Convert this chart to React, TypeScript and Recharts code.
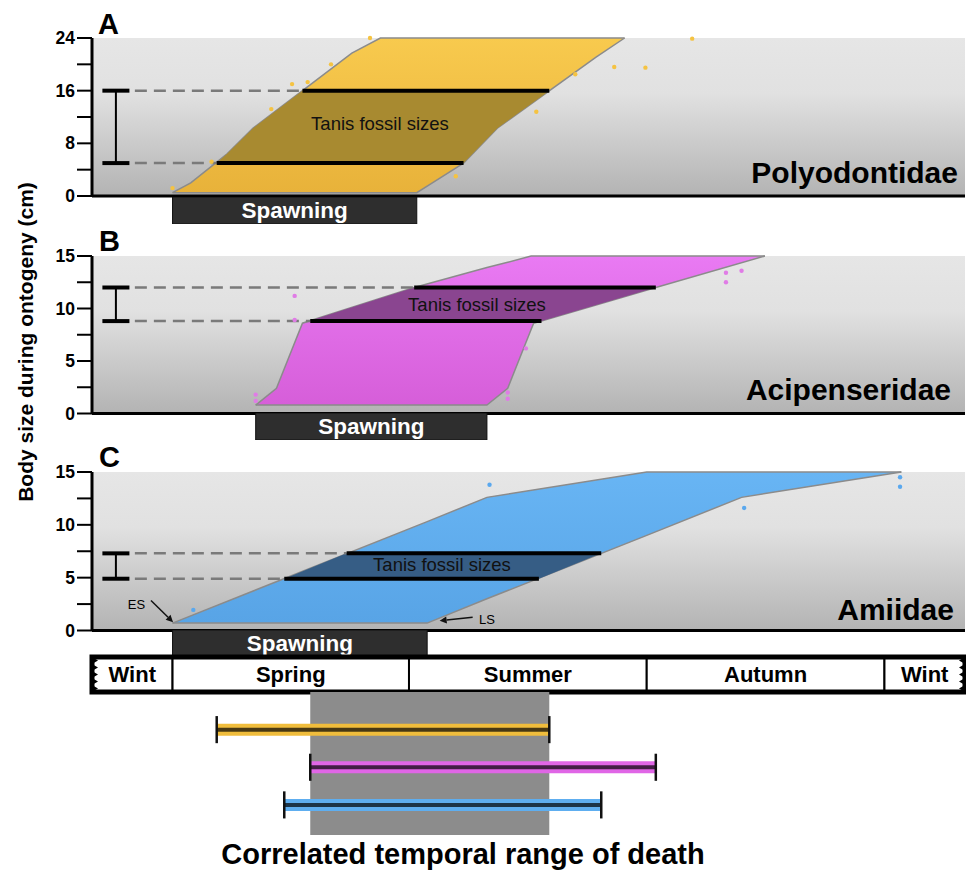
import React from "react";
import {
  ComposedChart,
  Area,
  Scatter,
  XAxis,
  YAxis,
  CartesianGrid,
  ReferenceLine,
  ReferenceArea,
} from "recharts";

const FONT = '"Liberation Sans", Arial, Helvetica, sans-serif';

// x axis = day of year, shared by every strip of the figure
const X_DOMAIN: [number, number] = [49, 385];

// seasons
const seasonNames = ["Wint", "Spring", "Summer", "Autumn", "Wint"];
const seasonEdges = [49, 80, 171, 262.5, 354, 385];

// growth envelopes: [day, lower size cm, upper size cm]
const envelopeA = [
  [80, 0.5, 0.5], [87, 0.5, 2], [101, 0.5, 6.4], [111, 0.5, 10.3], [149, 0.5, 21.7],
  [160, 0.5, 24], [174, 0.5, 24], [180, 2, 24], [192, 5, 24], [205, 10.3, 24],
  [243, 21.1, 24], [254, 24, 24],
];
const envelopeB = [
  [112, 0.8, 0.8], [120, 0.8, 2.4], [130, 0.8, 8.6], [173, 0.8, 12], [201, 0.8, 13.9],
  [209, 2.4, 14.4], [218, 8, 15], [219, 8.6, 15], [266, 12, 15], [308, 15, 15],
];
const envelopeC = [
  [80, 0.7, 0.7], [178, 0.7, 10.3], [201, 3, 12.6], [262.5, 9, 15], [299, 12.6, 15], [360.5, 15, 15],
];

// part of each envelope inside the Tanis fossil size range
const fossilBandA = [[97, 5, 5], [101, 5, 6.4], [111, 5, 10.3], [130, 5, 16], [192, 5, 16], [205, 10.3, 16], [225, 16, 16]];
const fossilBandB = [[132.5, 8.8, 8.8], [173, 8.8, 12], [222, 8.8, 12], [266, 12, 12]];
const fossilBandC = [[123, 4.9, 4.9], [147, 4.9, 7.3], [221, 4.9, 7.3], [245, 7.3, 7.3]];

// Tanis fossil sizes: [size cm, first day, last day]
const fossilLinesA = [[5, 97, 192], [16, 130, 225]];
const fossilLinesB = [[8.8, 133, 222], [12, 173, 266]];
const fossilLinesC = [[4.9, 123, 221], [7.3, 147, 245]];

// observed sizes: [day, size cm]
const observedA = [
  [80, 1.2], [95, 5.2], [118, 13.2], [126, 17], [132, 17.3], [141, 20], [156, 24],
  [189, 3], [220, 12.8], [235, 18.5], [250, 19.6], [262, 19.5], [280, 23.9],
];
const observedB = [
  [112, 1.8], [112, 1.2], [127, 11.2], [127, 8.9], [293, 13.4], [293, 12.5],
  [299, 13.6], [216, 6.2], [209, 2], [209, 1.4],
];
const observedC = [[88, 1.95], [202, 13.8], [300, 11.6], [360, 14.5], [360, 13.6]];

// spawning season [start day, end day]
const spawnA = [80, 174];
const spawnB = [112, 201];
const spawnC = [80, 178];

// axis ticks
const ticksA = [0, 4, 8, 12, 16, 20, 24];
const labelsA = [0, 8, 16, 24];
const ticksBC = [0, 2.5, 5, 7.5, 10, 12.5, 15];
const labelsBC = [0, 5, 10, 15];

const toRange = (rows: number[][]) => rows.map(([day, lo, hi]) => ({ day, range: [lo, hi] }));
const toPoints = (rows: number[][]) => rows.map(([day, size]) => ({ day, size }));

const Arrow = (p: any) => {
  const { x1, y1, x2, y2 } = p;
  const a = Math.atan2(y2 - y1, x2 - x1);
  const L = 7;
  const W = 3.5;
  const bx = x2 - L * Math.cos(a);
  const by = y2 - L * Math.sin(a);
  const px = -Math.sin(a) * W;
  const py = Math.cos(a) * W;
  return (
    <g>
      <line x1={x1} y1={y1} x2={bx} y2={by} stroke="#111" strokeWidth={1.5} />
      <polygon points={`${x2},${y2} ${bx + px},${by + py} ${bx - px},${by - py}`} fill="#111" />
    </g>
  );
};

// invisible series so that the strip charts get their scales
const Anchor = ({ xs, y }: { xs: number[]; y: number }) => (
  <Scatter data={xs.map((day) => ({ day, v: y }))} dataKey="v" shape={() => <g />} isAnimationActive={false} />
);

function GrowthPanel(props: any) {
  const { id, plotTop, plotBottom, yMax, ticks, labelled, envelope, band, observed, lines, fill, bandFill, dot, arrows } = props;
  const pad = 14;
  const [low, high] = lines;
  return (
    <div style={{ position: "absolute", left: 0, top: plotTop - pad }}>
      <ComposedChart width={966} height={plotBottom - plotTop + 2 * pad} margin={{ top: pad, right: 1, bottom: pad, left: 0 }}>
        <defs>
          <linearGradient id={`bg-${id}`} x1="0" y1="0" x2="0" y2="1">
            <stop offset="0%" stopColor="#e6e6e6" />
            <stop offset="35%" stopColor="#e1e1e1" />
            <stop offset="100%" stopColor="#b3b3b3" />
          </linearGradient>
          <linearGradient id={`env-${id}`} x1="0" y1="0" x2="0" y2="1">
            <stop offset="0%" stopColor={fill[0]} />
            <stop offset="100%" stopColor={fill[1]} />
          </linearGradient>
        </defs>
        <CartesianGrid horizontal={false} vertical={false} fill={`url(#bg-${id})`} fillOpacity={1} />
        <XAxis type="number" dataKey="day" domain={X_DOMAIN} hide />
        <YAxis
          type="number"
          domain={[0, yMax]}
          ticks={ticks}
          interval={0}
          width={92}
          tickSize={15}
          tickMargin={2}
          axisLine={{ stroke: "#000", strokeWidth: 3 }}
          tickLine={{ stroke: "#000", strokeWidth: 2 }}
          tick={(t: any) =>
            labelled.includes(t.payload.value) ? (
              <text x={t.x} y={t.y} dy={6} textAnchor="end" fontFamily={FONT} fontWeight={700} fontSize={17.5} fill="#000">
                {t.payload.value}
              </text>
            ) : (
              <g />
            )
          }
        />
        <Area
          data={toRange(envelope)}
          dataKey="range"
          type="linear"
          stroke="#8b8b8b"
          strokeWidth={1.5}
          fill={`url(#env-${id})`}
          fillOpacity={1}
          dot={false}
          activeDot={false}
          isAnimationActive={false}
        />
        <Area
          data={toRange(band)}
          dataKey="range"
          type="linear"
          stroke="none"
          fill={bandFill}
          fillOpacity={1}
          dot={false}
          activeDot={false}
          isAnimationActive={false}
        />
        <ReferenceLine y={0} stroke="#000" strokeWidth={3} />
        {lines.map(([size, from]: number[]) => (
          <ReferenceLine
            key={`d${size}`}
            segment={[{ x: 65.5, y: size }, { x: from, y: size }]}
            stroke="#7a7a7a"
            strokeWidth={2.5}
            strokeDasharray="12 7"
          />
        ))}
        {lines.map(([size, from, to]: number[]) => (
          <ReferenceLine key={`s${size}`} segment={[{ x: from, y: size }, { x: to, y: size }]} stroke="#000" strokeWidth={4} />
        ))}
        <ReferenceLine segment={[{ x: 58.2, y: low[0] }, { x: 58.2, y: high[0] }]} stroke="#000" strokeWidth={2} />
        <ReferenceLine segment={[{ x: 53, y: low[0] }, { x: 63.4, y: low[0] }]} stroke="#000" strokeWidth={4} />
        <ReferenceLine segment={[{ x: 53, y: high[0] }, { x: 63.4, y: high[0] }]} stroke="#000" strokeWidth={4} />
        {(arrows || []).map((seg: number[][], i: number) => (
          <ReferenceLine key={`a${i}`} segment={[{ x: seg[0][0], y: seg[0][1] }, { x: seg[1][0], y: seg[1][1] }]} shape={Arrow} />
        ))}
        <Scatter
          data={toPoints(observed)}
          dataKey="size"
          fill={dot}
          shape={(p: any) => <circle cx={p.cx} cy={p.cy} r={2.2} fill={dot} />}
          isAnimationActive={false}
        />
      </ComposedChart>
    </div>
  );
}

function SpawnStrip({ top, span }: { top: number; span: number[] }) {
  return (
    <div style={{ position: "absolute", left: 0, top }}>
      <ComposedChart width={966} height={27} margin={{ top: 0, right: 1, bottom: 0, left: 92 }}>
        <XAxis type="number" dataKey="day" domain={X_DOMAIN} hide />
        <YAxis type="number" domain={[0, 1]} hide />
        {Anchor({ xs: span, y: 0.5 })}
        <ReferenceArea
          x1={span[0]}
          x2={span[1]}
          y1={0}
          y2={1}
          fill="#2e2e2e"
          fillOpacity={1}
          stroke="#111"
          strokeWidth={1}
          label={{ value: "Spawning", position: "center", fill: "#fff", fontSize: 22.5, fontWeight: 700, fontFamily: FONT }}
        />
      </ComposedChart>
    </div>
  );
}

const seasonShape = (side: string | null) => (p: any) => {
  const { x, y, width, height } = p;
  let teeth = null;
  if (side) {
    const n = 5;
    const step = height / n;
    const edge = side === "left" ? x : x + width;
    const dir = side === "left" ? 1 : -1;
    let d = `M${edge},${y}`;
    for (let i = 0; i < n; i++) {
      d += ` L${edge + dir * 6},${y + step * (i + 0.5)} L${edge},${y + step * (i + 1)}`;
    }
    d += " Z";
    teeth = <path d={d} fill="#000" />;
  }
  return (
    <g>
      <rect x={x} y={y} width={width} height={height} fill="#fff" stroke="#000" strokeWidth={2} />
      {teeth}
    </g>
  );
};

function SeasonBar() {
  return (
    <div style={{ position: "absolute", left: 0, top: 650 }}>
      <ComposedChart width={966} height={48} margin={{ top: 7, right: 1, bottom: 6, left: 92 }}>
        <XAxis type="number" dataKey="day" domain={X_DOMAIN} hide />
        <YAxis type="number" domain={[0, 1]} hide />
        {Anchor({ xs: X_DOMAIN, y: 0.5 })}
        {seasonNames.map((name, i) => (
          <ReferenceArea
            key={i}
            x1={seasonEdges[i]}
            x2={seasonEdges[i + 1]}
            y1={0}
            y2={1}
            shape={seasonShape(i === 0 ? "left" : i === seasonNames.length - 1 ? "right" : null)}
            label={{ value: name, position: "center", fill: "#000", fontSize: 22, fontWeight: 700, fontFamily: FONT }}
          />
        ))}
        <ReferenceArea x1={X_DOMAIN[0]} x2={X_DOMAIN[1]} y1={0} y2={1} fill="none" stroke="#000" strokeWidth={5} />
      </ComposedChart>
    </div>
  );
}

const taxa = [
  { lines: fossilLinesA, color: "#f0bd3c" },
  { lines: fossilLinesB, color: "#e066e6" },
  { lines: fossilLinesC, color: "#5eaef0" },
];

function DeathRanges() {
  const ranges = taxa.map((t) => [Math.min(...t.lines.map((l) => l[1])), Math.max(...t.lines.map((l) => l[2]))]);
  const overlap = [Math.max(...ranges.map((r) => r[0])), Math.min(...ranges.map((r) => r[1]))];
  return (
    <div style={{ position: "absolute", left: 0, top: 692 }}>
      <ComposedChart width={966} height={143} margin={{ top: 0, right: 1, bottom: 0, left: 92 }}>
        <XAxis type="number" dataKey="day" domain={X_DOMAIN} hide />
        <YAxis type="number" domain={[0, 3.8]} reversed hide />
        {Anchor({ xs: X_DOMAIN, y: 0.1 })}
        <ReferenceArea x1={overlap[0]} x2={overlap[1]} y1={0} y2={3.8} fill="#8c8c8c" fillOpacity={1} stroke="none" />
        {ranges.map((r, i) => (
          <ReferenceLine key={`c${i}`} segment={[{ x: r[0], y: i + 1 }, { x: r[1], y: i + 1 }]} stroke={taxa[i].color} strokeWidth={12} />
        ))}
        {ranges.map((r, i) => (
          <ReferenceLine key={`k${i}`} segment={[{ x: r[0], y: i + 1 }, { x: r[1], y: i + 1 }]} stroke="rgba(0,0,0,0.7)" strokeWidth={4} />
        ))}
        {ranges.flatMap((r, i) =>
          r.map((x, j) => (
            <ReferenceLine key={`e${i}${j}`} segment={[{ x, y: i + 0.64 }, { x, y: i + 1.36 }]} stroke="#111" strokeWidth={2.5} />
          ))
        )}
      </ComposedChart>
    </div>
  );
}

export default function App() {
  return (
    <div style={{ position: "absolute", left: 0, top: 0, width: 966, height: 874, background: "#fff", fontFamily: FONT }}>
      <GrowthPanel
        id="A"
        plotTop={38}
        plotBottom={196}
        yMax={24}
        ticks={ticksA}
        labelled={labelsA}
        envelope={envelopeA}
        band={fossilBandA}
        observed={observedA}
        lines={fossilLinesA}
        fill={["#f8ca4e", "#e8b23a"]}
        bandFill="#a88a30"
        dot="#f5c342"
      />
      <SpawnStrip top={197} span={spawnA} />
      <GrowthPanel
        id="B"
        plotTop={255.5}
        plotBottom={413}
        yMax={15}
        ticks={ticksBC}
        labelled={labelsBC}
        envelope={envelopeB}
        band={fossilBandB}
        observed={observedB}
        lines={fossilLinesB}
        fill={["#e97af3", "#d65ed9"]}
        bandFill="#8a4590"
        dot="#e07ce6"
      />
      <SpawnStrip top={413} span={spawnB} />
      <GrowthPanel
        id="C"
        plotTop={471.5}
        plotBottom={630}
        yMax={15}
        ticks={ticksBC}
        labelled={labelsBC}
        envelope={envelopeC}
        band={fossilBandC}
        observed={observedC}
        lines={fossilLinesC}
        fill={["#68b5f4", "#58a4e6"]}
        bandFill="#365d85"
        dot="#5aa8ee"
        arrows={[
          [[71.7, 2.84], [80.2, 0.79]],
          [[195.5, 1.26], [182.8, 0.92]],
        ]}
      />
      <SpawnStrip top={630} span={spawnC} />
      <SeasonBar />
      <DeathRanges />
      <svg width={966} height={874} style={{ position: "absolute", left: 0, top: 0, pointerEvents: "none" }} fontFamily={FONT}>
        <text x={98} y={34} fontSize={29} fontWeight={700}>A</text>
        <text x={99} y={251} fontSize={29} fontWeight={700}>B</text>
        <text x={99} y={467} fontSize={29} fontWeight={700}>C</text>
        <text x={958} y={183} textAnchor="end" fontSize={30} fontWeight={700}>Polyodontidae</text>
        <text x={951} y={400} textAnchor="end" fontSize={30} fontWeight={700}>Acipenseridae</text>
        <text x={954} y={620} textAnchor="end" fontSize={30} fontWeight={700}>Amiidae</text>
        <text x={380} y={130} textAnchor="middle" fontSize={18.5} fill="#111">Tanis fossil sizes</text>
        <text x={477} y={311} textAnchor="middle" fontSize={18.5} fill="#111">Tanis fossil sizes</text>
        <text x={442} y={571} textAnchor="middle" fontSize={18.5} fill="#111">Tanis fossil sizes</text>
        <text x={136.5} y={609} textAnchor="middle" fontSize={13}>ES</text>
        <text x={487} y={624} textAnchor="middle" fontSize={13}>LS</text>
        <text x={25} y={342} transform="rotate(-90 25 342)" textAnchor="middle" dominantBaseline="central" fontSize={21} fontWeight={700}>
          Body size during ontogeny (cm)
        </text>
        <text x={463} y={864} textAnchor="middle" fontSize={29} fontWeight={700}>Correlated temporal range of death</text>
      </svg>
    </div>
  );
}
